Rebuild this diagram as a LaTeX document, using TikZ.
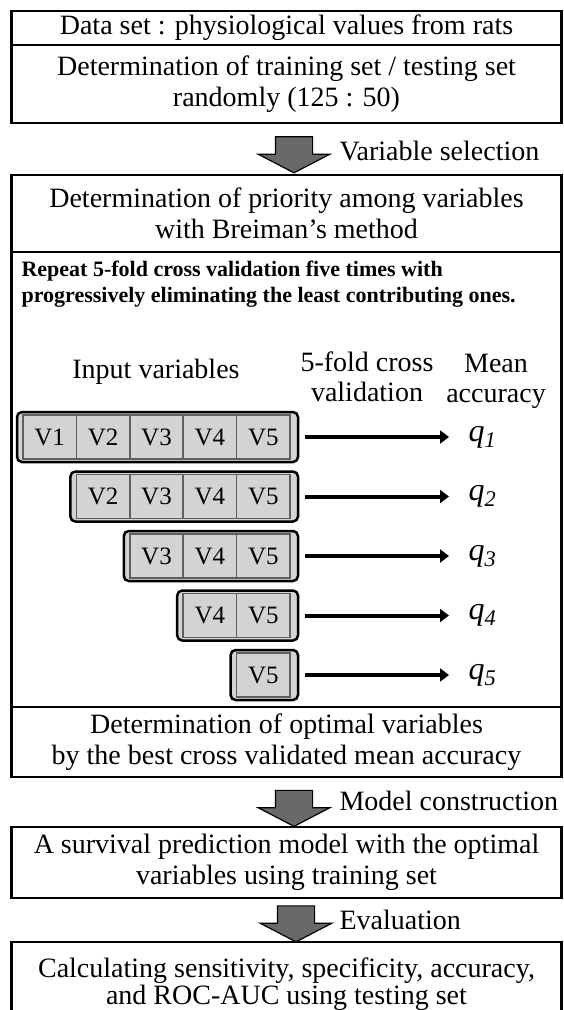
\documentclass[tikz,border=0pt]{standalone}
\usepackage{fontspec}
\setmainfont{Liberation Serif}
\definecolor{cellgray}{RGB}{211, 211, 211}
\definecolor{cellline}{RGB}{95, 95, 95}
\definecolor{arrowgray}{RGB}{105, 105, 105}
\usetikzlibrary{shapes.arrows, arrows.meta, positioning}

\begin{document}
\begin{tikzpicture}[
  x=1pt, y=-1pt,
  mbox/.style={draw, line width=2.5pt, outer sep=0pt, inner sep=0pt, minimum width=550pt, align=center, font=\fontsize{28}{31}\selectfont},
  rowbox/.style={draw, line width=2.5pt, rounded corners=5pt, fill=cellgray, minimum height=50pt, outer sep=0pt},
  vcell/.style={draw=cellline, line width=1.6pt, fill=cellgray, minimum width=53.4pt, minimum height=44pt, inner sep=0pt, font=\fontsize{25}{25}\selectfont},
  blkarrow/.style={single arrow, draw, line width=1.2pt, fill=arrowgray, shape border rotate=270, minimum height=36pt, inner xsep=18pt, inner ysep=0pt, single arrow head extend=17pt, single arrow tip angle=125},
  steplabel/.style={anchor=west, font=\fontsize{28}{30}\selectfont},
  accarrow/.style={line width=4pt, -{Triangle[length=9pt, width=13pt]}, shorten <=7pt, shorten >=16pt},
  acc/.style={font=\fontsize{32}{32}\selectfont\itshape}
]
  \useasboundingbox (0,0) rectangle (563,1010);

  % Data set and split
  \node[mbox, minimum height=34pt] (data) at (286.5, 28) {Data set : physiological values from rats};
  \node[mbox, minimum height=78pt] (split) at (286.5, 84) {Determination of training set / testing set\\randomly (125 : 50)};

  \node[blkarrow] (sel) at (294, 150) {};
  \node[steplabel] at (336, 151) {Variable selection};

  % Variable selection frame
  \node[mbox, minimum height=77pt] (prior) at (286.5, 213.5) {Determination of priority among variables\\with Breiman's method};
  \node[mbox, minimum height=70pt] (optim) at (286.5, 742) {Determination of optimal variables\\by the best cross validated mean accuracy};
  \draw[line width=2.5pt] (prior.north west) rectangle (optim.south east);

  \node[anchor=west, align=left, font=\fontsize{22}{26}\selectfont\bfseries] (repeat) at (18, 284)
    {Repeat 5-fold cross validation five times with\\progressively eliminating the least contributing ones.};

  \node[font=\fontsize{28}{30}\selectfont] (inhead) at (156, 372) {Input variables};
  \node[font=\fontsize{28}{30}\selectfont, align=center] (cvhead) at (367, 377) {5-fold cross\\validation};
  \node[font=\fontsize{28}{30}\selectfont, align=center] (acchead) at (496, 381) {Mean\\accuracy};

  % Rows of input variables
  \node[rowbox, minimum width=281pt] (row1) at (157.5, 437) {};
  \node[rowbox, minimum width=227.6pt] (row2) at (184.2, 496.5) {};
  \node[rowbox, minimum width=174.2pt] (row3) at (210.9, 556) {};
  \node[rowbox, minimum width=120.8pt] (row4) at (237.6, 615.5) {};
  \node[rowbox, minimum width=67.4pt] (row5) at (264.3, 675) {};

  \node[vcell] (c11) at (49.7, 437) {V1};
  \node[vcell] (c12) at (103.1, 437) {V2};
  \node[vcell] (c13) at (156.5, 437) {V3};
  \node[vcell] (c14) at (209.9, 437) {V4};
  \node[vcell] (c15) at (263.3, 437) {V5};
  \node[vcell] (c22) at (103.1, 496.5) {V2};
  \node[vcell] (c23) at (156.5, 496.5) {V3};
  \node[vcell] (c24) at (209.9, 496.5) {V4};
  \node[vcell] (c25) at (263.3, 496.5) {V5};
  \node[vcell] (c33) at (156.5, 556) {V3};
  \node[vcell] (c34) at (209.9, 556) {V4};
  \node[vcell] (c35) at (263.3, 556) {V5};
  \node[vcell] (c44) at (209.9, 615.5) {V4};
  \node[vcell] (c45) at (263.3, 615.5) {V5};
  \node[vcell] (c55) at (263.3, 675) {V5};

  % Mean accuracy per row
  \node[acc, anchor=west] (q1) at (465, 437) {q\textsubscript{1}};
  \node[acc, anchor=west] (q2) at (465, 496.5) {q\textsubscript{2}};
  \node[acc, anchor=west] (q3) at (465, 556) {q\textsubscript{3}};
  \node[acc, anchor=west] (q4) at (465, 615.5) {q\textsubscript{4}};
  \node[acc, anchor=west] (q5) at (465, 675) {q\textsubscript{5}};

  \draw[accarrow] (row1.east) -- (q1.west);
  \draw[accarrow] (row2.east) -- (q2.west);
  \draw[accarrow] (row3.east) -- (q3.west);
  \draw[accarrow] (row4.east) -- (q4.west);
  \draw[accarrow] (row5.east) -- (q5.west);

  % Model and evaluation
  \node[blkarrow] (cons) at (294, 803.5) {};
  \node[steplabel] at (336, 801) {Model construction};
  \node[mbox, minimum height=71pt] (model) at (286.5, 862.5) {A survival prediction model with the optimal\\variables using training set};

  \node[blkarrow] (ev) at (296, 919) {};
  \node[steplabel] at (336, 920) {Evaluation};
  \node[mbox, minimum height=84pt, font=\fontsize{28}{27}\selectfont] (eval) at (286.5, 984) {Calculating sensitivity, specificity, accuracy,\\and ROC-AUC using testing set};
\end{tikzpicture}
\end{document}
